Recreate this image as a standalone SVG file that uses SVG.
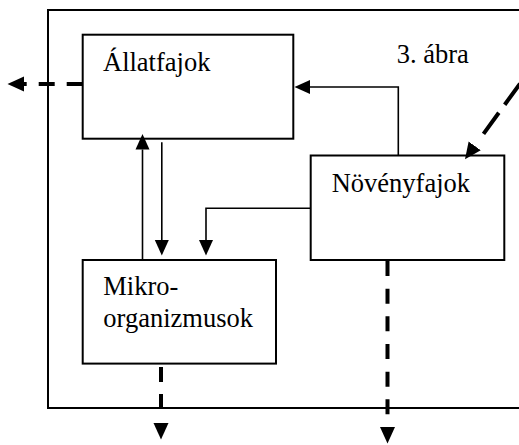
<svg xmlns="http://www.w3.org/2000/svg" width="519" height="445" viewBox="0 0 519 445">
<style>
.box{fill:#fff;stroke:#000;stroke-width:2}
.frame{fill:none;stroke:#000;stroke-width:2}
text{font-family:'Liberation Serif','Times New Roman',serif;font-size:26.5px;fill:#000}
.solid{fill:none;stroke:#000;stroke-width:1.6;marker-end:url(#sh)}
.dash{fill:none;stroke:#000;stroke-width:4;marker-end:url(#dh)}
</style>
<defs>
<marker id="sh" markerUnits="userSpaceOnUse" viewBox="0 -10 20 20" refX="0" refY="0" markerWidth="20" markerHeight="20" orient="auto">
<path d="M0,-7 L15.5,0 L0,7 Z" fill="#000"/>
</marker>
<marker id="dh" markerUnits="userSpaceOnUse" viewBox="0 -10 20 20" refX="0" refY="0" markerWidth="20" markerHeight="20" orient="auto">
<path d="M0,-7.5 L16.5,0 L0,7.5 Z" fill="#000"/>
</marker>
</defs>
<rect class="frame" x="48" y="10" width="500" height="398"/>
<g id="allatfajok">
<rect class="box" x="82.7" y="34.7" width="210.6" height="104"/>
<text x="103" y="70.7">Állatfajok</text>
</g>
<g id="novenyfajok">
<rect class="box" x="310.7" y="155.5" width="193.6" height="104.5"/>
<text x="331.7" y="192.3">Növényfajok</text>
</g>
<g id="mikroorganizmusok">
<rect class="box" x="82.7" y="260" width="193.3" height="103.6"/>
<text x="103.3" y="295">Mikro-</text>
<text x="103.3" y="327.3">organizmusok</text>
</g>
<g id="caption">
<text x="396.7" y="62.5">3. ábra</text>
</g>
<g id="connectors">
<line class="solid" x1="142.5" y1="259" x2="142.5" y2="149.5"/>
<line class="solid" x1="161.8" y1="142.3" x2="161.8" y2="240"/>
<polyline class="solid" points="310.7,208.3 206,208.3 206,240"/>
<polyline class="solid" points="398.3,155.5 398.3,87 310,87"/>
<line class="dash" x1="82.7" y1="84" x2="24" y2="84" stroke-dasharray="16 12"/>
<line class="dash" x1="161" y1="367" x2="161" y2="423" stroke-dasharray="15 12 15 14"/>
<line class="dash" x1="387.5" y1="261" x2="387.5" y2="427" stroke-dasharray="15 12.67"/>
<line class="dash" x1="520" y1="83.7" x2="474.7" y2="145.9" stroke-dasharray="26 10 26 14.9"/>
</g>
</svg>
